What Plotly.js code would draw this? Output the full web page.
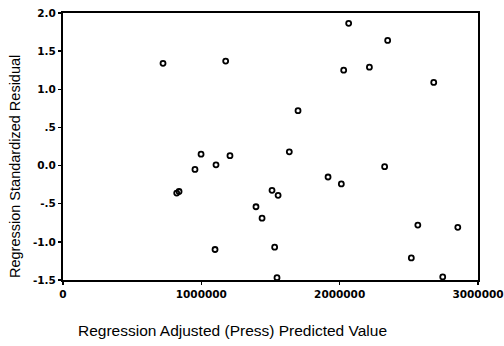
<!DOCTYPE html>
<html>
<head>
<meta charset="utf-8">
<script src="https://cdn.plot.ly/plotly-3.0.1.min.js"></script>
<style>html,body{margin:0;padding:0;background:#fff;}#chart{width:504px;height:346px;}</style>
</head>
<body>
<div id="chart"></div>
<script>
var predictedValue = [723000, 1176000, 998000, 1207000, 1106000, 954000,
  2065000, 2347000, 2029000, 2215000, 2680000, 1699000, 1636000, 2325000,
  839000, 822000, 1099000, 1916000, 2012000, 1511000, 1555000, 1395000,
  1439000, 1530000, 1547000, 2565000, 2854000, 2518000, 2745000];
var stdResidual = [1.34, 1.37, 0.15, 0.13, 0.01, -0.05,
  1.865, 1.64, 1.25, 1.29, 1.09, 0.72, 0.18, -0.015,
  -0.34, -0.36, -1.10, -0.15, -0.24, -0.325, -0.39, -0.54,
  -0.69, -1.07, -1.47, -0.78, -0.81, -1.21, -1.46];
var xTickVals = [0, 1000000, 2000000, 3000000];
var xTickText = ["0", "1000000", "2000000", "3000000"];
var yTickVals = [2.0, 1.5, 1.0, 0.5, 0.0, -0.5, -1.0, -1.5];
var yTickText = ["2.0", "1.5", "1.0", ".5", "0.0", "-.5", "-1.0", "-1.5"];
var xTitle = "Regression Adjusted (Press) Predicted Value";
var yTitle = "Regression Standardized Residual";

var trace = {
  x: predictedValue, y: stdResidual, type: 'scatter', mode: 'markers',
  marker: {symbol: 'circle-open', size: 5, color: '#000', line: {width: 1.8, color: '#000'}},
  hoverinfo: 'none'
};
var tickFont = {family: 'DejaVu Sans, sans-serif', size: 10.5, color: '#000', weight: 'bold'};
var layout = {
  width: 504, height: 346,
  margin: {l: 63, r: 26, t: 13, b: 66},
  paper_bgcolor: '#fff', plot_bgcolor: '#fff',
  showlegend: false,
  xaxis: {
    range: [0, 3000000], tickvals: xTickVals, ticktext: xTickText,
    showgrid: false, zeroline: false, showline: true, linewidth: 2, linecolor: '#000', mirror: true,
    ticks: 'outside', ticklen: 3, tickwidth: 1.5, tickcolor: '#000',
    tickfont: tickFont
  },
  yaxis: {
    range: [-1.5, 2.0], tickvals: yTickVals, ticktext: yTickText,
    showgrid: false, zeroline: false, showline: true, linewidth: 2, linecolor: '#000', mirror: true,
    ticks: 'outside', ticklen: 3, tickwidth: 1.5, tickcolor: '#000',
    tickfont: tickFont
  },
  annotations: [
    {text: xTitle, xref: 'paper', yref: 'paper', x: (232 - 63) / 415, y: -(330 - 280) / 267,
     xanchor: 'center', yanchor: 'middle', showarrow: false,
     font: {family: 'Liberation Sans, Arial, sans-serif', size: 15.5, color: '#000'}},
    {text: yTitle, xref: 'paper', yref: 'paper', x: -(63 - 15) / 415, y: (280 - 167) / 267,
     xanchor: 'center', yanchor: 'middle', textangle: -90, showarrow: false,
     font: {family: 'Liberation Sans, Arial, sans-serif', size: 14.5, color: '#000'}}
  ]
};
Plotly.newPlot('chart', [trace], layout, {staticPlot: true, displayModeBar: false});
</script>
</body>
</html>
